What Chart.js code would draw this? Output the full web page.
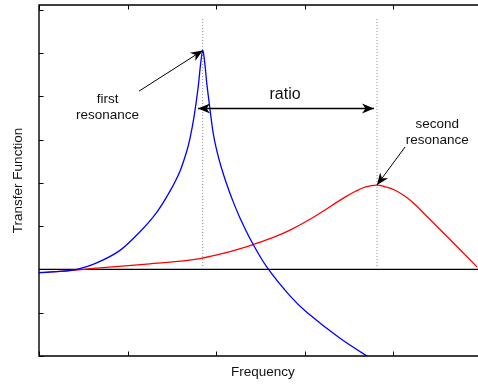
<!DOCTYPE html>
<html>
<head>
<meta charset="utf-8">
<script src="https://cdn.jsdelivr.net/npm/chart.js@4.4.1/dist/chart.umd.min.js"></script>
<style>
  html, body { margin: 0; padding: 0; background: #fff; }
  canvas { display: block; }
</style>
</head>
<body>
<canvas id="c" width="478" height="385"></canvas>
<script>
// First mode: sharp resonance peak
const blueFreq = [0, 0.271, 0.426, 0.652, 0.915, 1.141, 1.330, 1.480, 1.593, 1.669, 1.706, 1.751, 1.797, 1.827, 1.850, 1.872, 1.895, 1.932, 1.968, 2.008, 2.059, 2.121, 2.189, 2.271, 2.403, 2.573, 2.836, 3.025, 3.401, 3.721, 3.910];
const blueGain = [-0.08, -0.04, 0.00, 0.15, 0.44, 0.87, 1.32, 1.81, 2.27, 2.73, 3.03, 3.52, 4.19, 4.77, 5.06, 4.79, 4.31, 3.70, 3.15, 2.75, 2.36, 1.97, 1.59, 1.19, 0.64, 0.06, -0.61, -0.99, -1.59, -2.02, -2.25];

// Second mode: broad, damped resonance
const redFreq = [0, 0.271, 0.689, 1.254, 1.537, 1.819, 2.102, 2.384, 2.610, 2.836, 3.062, 3.288, 3.458, 3.571, 3.684, 3.819, 3.910, 4.023, 4.136, 4.249, 4.362, 4.644, 4.949];
const redGain = [-0.07, -0.04, 0.035, 0.13, 0.18, 0.25, 0.38, 0.55, 0.71, 0.91, 1.16, 1.45, 1.67, 1.80, 1.90, 1.95, 1.91, 1.83, 1.69, 1.50, 1.27, 0.69, 0.06];

// Axis ranges and tick positions
const xRange = [0, 4.96];
const yRange = [-2, 6.11];
const xTicks = [0, 1, 2, 3, 4];
const yTicks = [-2, -1, 0, 1, 2, 3, 4, 5, 6];

// Where the dotted markers start (bottom) and stop (top)
const markerSpan = [0.08, 5.8];

// Annotation anchors (data units)
const firstLabelAt = [0.774, 3.75];
const firstArrowTail = [1.13, 4.12];
const secondLabelAt = [4.50, 3.18];
const secondArrowTail = [4.136, 2.83];
const ratioLabelAt = [2.78, 4.03];
const ratioArrow = [1.797, 3.785, 3.73]; // x from, x to, y

function peakOf(xs, ys) {
  let k = 0;
  for (let i = 1; i < ys.length; i++) if (ys[i] > ys[k]) k = i;
  return [xs[k], ys[k]];
}
const peak1 = peakOf(blueFreq, blueGain);
const peak2 = peakOf(redFreq, redGain);

const toPts = (xs, ys) => xs.map((x, i) => ({ x, y: ys[i] }));

const FONT = '"Liberation Sans", Arial, Helvetica, sans-serif';

function arrowHead(ctx, x0, y0, x1, y1) {
  const ang = Math.atan2(y1 - y0, x1 - x0);
  const L = 12, W = 5, back = 3.5;
  ctx.save();
  ctx.translate(x1, y1);
  ctx.rotate(ang);
  ctx.beginPath();
  ctx.moveTo(0, 0);
  ctx.lineTo(-L, -W);
  ctx.lineTo(-L + back, 0);
  ctx.lineTo(-L, W);
  ctx.closePath();
  ctx.fill();
  ctx.restore();
}

const decor = {
  id: 'decor',
  afterDatasetsDraw(chart) {
    const ctx = chart.ctx;
    const xs = chart.scales.x, ys = chart.scales.y;
    const a = chart.chartArea;
    const px = v => xs.getPixelForValue(v);
    const py = v => ys.getPixelForValue(v);

    ctx.save();
    // axes frame (left, top, bottom)
    ctx.strokeStyle = '#000';
    ctx.lineWidth = 1.4;
    ctx.beginPath();
    ctx.moveTo(a.right + 2, a.top);
    ctx.lineTo(a.left, a.top);
    ctx.lineTo(a.left, a.bottom);
    ctx.lineTo(a.right + 2, a.bottom);
    ctx.stroke();

    // inward tick marks
    ctx.lineWidth = 1;
    const tl = 4.5;
    ctx.beginPath();
    xTicks.forEach(t => {
      const x = Math.round(px(t)) + 0.5;
      ctx.moveTo(x, a.bottom); ctx.lineTo(x, a.bottom - tl);
      ctx.moveTo(x, a.top); ctx.lineTo(x, a.top + tl);
    });
    yTicks.forEach(t => {
      const y = Math.round(py(t)) + 0.5;
      ctx.moveTo(a.left, y); ctx.lineTo(a.left + tl, y);
    });
    ctx.stroke();

    // axis titles
    ctx.fillStyle = '#111';
    ctx.font = '13.5px ' + FONT;
    ctx.textAlign = 'center';
    ctx.textBaseline = 'middle';
    ctx.fillText('Frequency', px(2.53), a.bottom + 16.5);
    ctx.save();
    ctx.translate(18, (a.top + a.bottom) / 2);
    ctx.rotate(-Math.PI / 2);
    ctx.fillText('Transfer Function', 0, 0);
    ctx.restore();

    // labels
    ctx.fillText('first', px(firstLabelAt[0]), py(firstLabelAt[1]) - 8);
    ctx.fillText('resonance', px(firstLabelAt[0]), py(firstLabelAt[1]) + 8);
    ctx.fillText('second', px(secondLabelAt[0]), py(secondLabelAt[1]) - 8);
    ctx.fillText('resonance', px(secondLabelAt[0]), py(secondLabelAt[1]) + 8);
    ctx.font = '16px ' + FONT;
    ctx.fillText('ratio', px(ratioLabelAt[0]), py(ratioLabelAt[1]));

    // arrows
    ctx.strokeStyle = '#000';
    ctx.fillStyle = '#000';
    ctx.lineWidth = 1;
    const arrow = (t, h) => {
      const x0 = px(t[0]), y0 = py(t[1]), x1 = px(h[0]), y1 = py(h[1]);
      ctx.beginPath(); ctx.moveTo(x0, y0); ctx.lineTo(x1, y1); ctx.stroke();
      arrowHead(ctx, x0, y0, x1, y1);
    };
    arrow(firstArrowTail, peak1);
    arrow(secondArrowTail, peak2);
    const yr = Math.round(py(ratioArrow[2])) + 0.5;
    const xa = px(ratioArrow[0]), xb = px(ratioArrow[1]);
    ctx.lineWidth = 1.3;
    ctx.beginPath(); ctx.moveTo(xa, yr); ctx.lineTo(xb, yr); ctx.stroke();
    arrowHead(ctx, xb, yr, xa, yr);
    arrowHead(ctx, xa, yr, xb, yr);
    ctx.restore();
  }
};

const dotted = (x) => ({
  data: [{ x, y: markerSpan[0] }, { x, y: markerSpan[1] }],
  borderColor: '#8a8a8a',
  borderWidth: 1,
  borderDash: [1, 2],
  pointRadius: 0,
  tension: 0,
  order: 4
});

new Chart(document.getElementById('c'), {
  type: 'line',
  data: {
    datasets: [
      {
        data: toPts(blueFreq, blueGain),
        borderColor: '#0000ff',
        borderWidth: 1.3,
        pointRadius: 0,
        tension: 0.3,
        order: 1
      },
      {
        data: toPts(redFreq, redGain),
        borderColor: '#ff0000',
        borderWidth: 1.3,
        pointRadius: 0,
        tension: 0.4,
        order: 2
      },
      {
        data: [{ x: xRange[0], y: 0 }, { x: xRange[1], y: 0 }],
        borderColor: '#000',
        borderWidth: 1.2,
        pointRadius: 0,
        tension: 0,
        order: 3
      },
      dotted(peak1[0]),
      dotted(peak2[0])
    ]
  },
  options: {
    responsive: false,
    animation: false,
    events: [],
    layout: { padding: { left: 39, right: 0, top: 5, bottom: 29 } },
    plugins: { legend: { display: false }, tooltip: { enabled: false } },
    scales: {
      x: { type: 'linear', min: xRange[0], max: xRange[1], display: false },
      y: { type: 'linear', min: yRange[0], max: yRange[1], display: false }
    }
  },
  plugins: [decor]
});
</script>
</body>
</html>
